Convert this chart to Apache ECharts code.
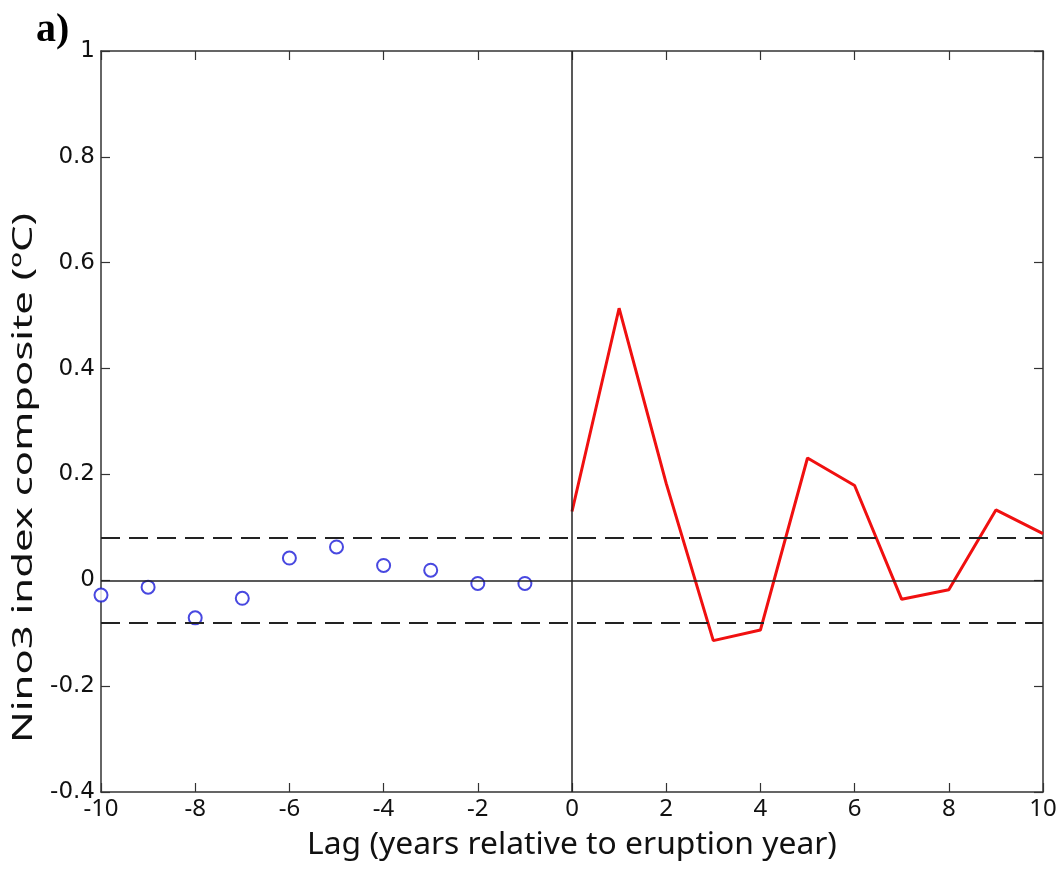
<!DOCTYPE html>
<html>
<head>
<meta charset="utf-8">
<script src="https://cdn.jsdelivr.net/npm/echarts@6/dist/echarts.min.js"></script>
<style>
  html, body { margin: 0; padding: 0; background: #fff; }
  #chart { width: 1064px; height: 873px; }
</style>
</head>
<body>
<div id="chart"></div>
<script>
  // lags before eruption (blue circles) and after (red line)
  var lagsBefore = [-10, -9, -8, -7, -6, -5, -4, -3, -2, -1]
  var circleVals = [-0.028, -0.013, -0.071, -0.034, 0.042, 0.063, 0.028, 0.019, -0.006, -0.006]
  var lagsAfter = [0, 1, 2, 3, 4, 5, 6, 7, 8, 9, 10]
  var redVals = [0.130, 0.514, 0.183, -0.114, -0.094, 0.231, 0.179, -0.036, -0.018, 0.133, 0.088]
  var signif = 0.079

  var axisColor = '#333'
  var myChart = echarts.init(document.getElementById('chart'))

  function pairs (xs, ys) {
    return xs.map(function (x, i) { return [x, ys[i]] })
  }

  var baseX = {
    type: 'value',
    min: -10,
    max: 10,
    interval: 2,
    axisLine: { onZero: false, lineStyle: { color: axisColor, width: 1.5 } },
    axisTick: { inside: true, length: 9, lineStyle: { color: axisColor, width: 1.2 } },
    splitLine: { show: false }
  }
  var baseY = {
    type: 'value',
    min: -0.4,
    max: 1,
    interval: 0.2,
    axisLine: { onZero: false, lineStyle: { color: axisColor, width: 1.5 } },
    axisTick: { inside: true, length: 9, lineStyle: { color: axisColor, width: 1.2 } },
    splitLine: { show: false }
  }

  myChart.setOption({
    animation: false,
    grid: { left: 101, right: 21, top: 51, bottom: 81, containLabel: false },
    xAxis: [
      Object.assign({}, baseX, {
        position: 'bottom',
        axisLabel: { color: '#111', fontFamily: 'Noto Sans', fontSize: 24, margin: 5 }
      }),
      Object.assign({}, baseX, { position: 'top', axisLabel: { show: false } })
    ],
    yAxis: [
      Object.assign({}, baseY, {
        position: 'left',
        axisLabel: { color: '#111', fontFamily: 'DejaVu Sans', fontSize: 23, margin: 6 }
      }),
      Object.assign({}, baseY, { position: 'right', axisLabel: { show: false } })
    ],
    graphic: [
      {
        type: 'text',
        left: 36,
        top: 11,
        style: { text: 'a)', font: 'bold 40px "Liberation Serif"', fill: '#000' }
      },
      {
        type: 'text',
        x: 572,
        y: 845,
        scaleX: 1.06,
        style: {
          text: 'Lag (years relative to eruption year)',
          font: '30px "Noto Sans"', fill: '#111',
          align: 'center', verticalAlign: 'middle'
        }
      },
      {
        type: 'text',
        x: 24,
        y: 478,
        rotation: Math.PI / 2,
        scaleX: 1.55,
        style: {
          text: 'Nino3 index composite (ºC)',
          font: '27px "Noto Sans"', fill: '#111',
          align: 'center', verticalAlign: 'middle'
        }
      }
    ],
    series: [
      {
        name: 'reference',
        type: 'line',
        data: [],
        silent: true,
        markLine: {
          silent: true,
          symbol: 'none',
          label: { show: false },
          data: [
            { yAxis: 0, lineStyle: { color: '#222', width: 1.5, type: 'solid' } },
            { xAxis: 0, lineStyle: { color: '#222', width: 1.5, type: 'solid' } },
            { yAxis: signif, lineStyle: { color: '#222', width: 1.8, type: [19, 9] } },
            { yAxis: -signif, lineStyle: { color: '#222', width: 1.8, type: [19, 9] } }
          ]
        }
      },
      {
        name: 'before',
        type: 'scatter',
        symbol: 'emptyCircle',
        symbolSize: 13,
        itemStyle: { color: '#1a1ad8', borderWidth: 2 },
        data: pairs(lagsBefore, circleVals)
      },
      {
        name: 'after',
        type: 'line',
        showSymbol: false,
        lineStyle: { color: '#f01010', width: 3 },
        data: pairs(lagsAfter, redVals)
      }
    ]
  })
</script>
</body>
</html>
